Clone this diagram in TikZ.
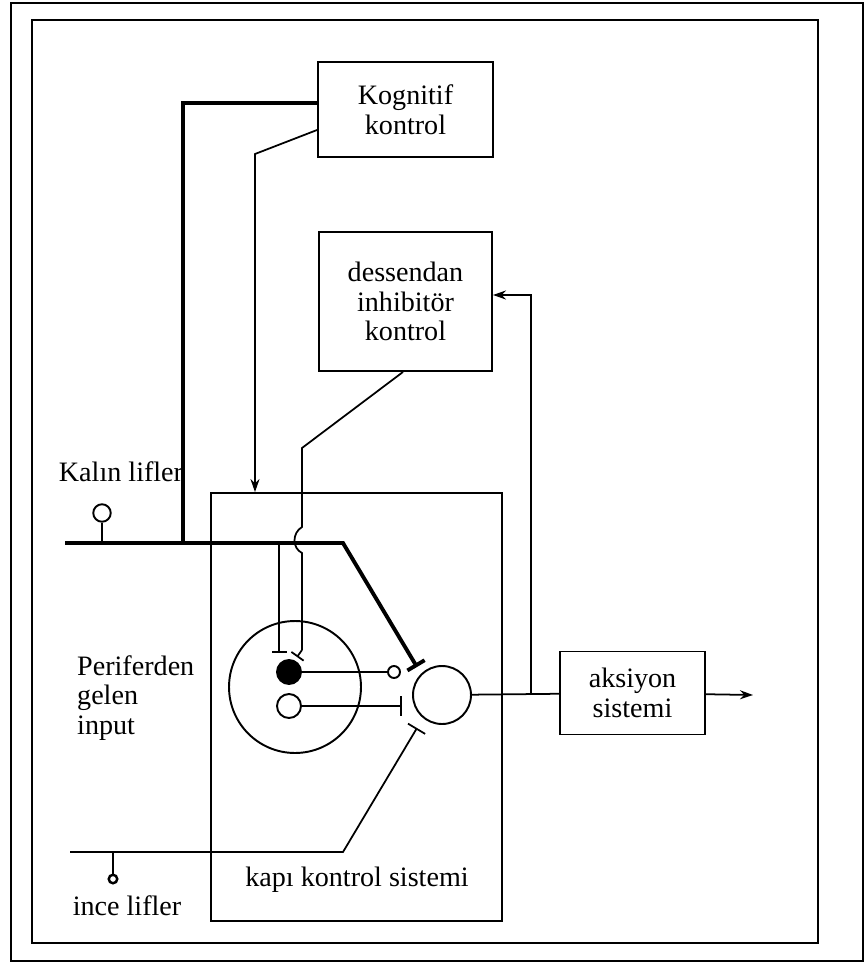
\documentclass[tikz,border=0pt]{standalone}
\usepackage{fontspec}
\setmainfont{Liberation Serif}
\usetikzlibrary{arrows.meta}

\begin{document}
\begin{tikzpicture}[x=0.02cm,y=-0.02cm,font=\fontsize{16}{17}\selectfont,
  box/.style={draw,line width=1.1pt,align=center,inner sep=0pt},
  ring/.style={draw,circle,line width=1.1pt,inner sep=0pt},
  wire/.style={line width=1pt},
  heavy/.style={line width=2.2pt},
  >={Stealth[length=2.6mm,width=1.8mm]}]
\useasboundingbox (0,0) rectangle (865,963);
\draw[line width=1.4pt] (11,3) rectangle (863,961);
\draw[line width=0.8pt] (32,20) rectangle (818,943);

\node[box,minimum width=3.5cm,minimum height=1.9cm] (kog) at (405.5,109.5) {Kognitif\\kontrol};
\node[box,minimum width=3.46cm,minimum height=2.78cm] (des) at (405.5,301.5) {dessendan\\inhibitör\\kontrol};
\node[box,minimum width=5.82cm,minimum height=8.56cm] (gate) at (356.5,707) {};
\node[anchor=base] (gatelbl) at (357,886) {kapı kontrol sistemi};
\node[box,minimum width=2.9cm,minimum height=1.66cm] (aks) at (632.5,693) {aksiyon\\sistemi};
\node[anchor=base] (kalin) at (121,481) {Kalın lifler};
\node[anchor=base] (ince) at (127,915) {ince lifler};
\node[align=left,anchor=west] (perif) at (71,698) {Periferden\\gelen\\input};

\node[ring,minimum size=0.35cm] (kc) at (102,513) {};
\node[ring,minimum size=0.17cm,line width=1.4pt] (ic) at (113,879) {};
\node[ring,minimum size=2.64cm] (dorsal) at (295,687) {};
\node[ring,fill=black,minimum size=0.48cm] (sgf) at (289,672) {};
\node[ring,minimum size=0.48cm] (sgo) at (289,706) {};
\node[ring,minimum size=0.24cm] (syn) at (394,672) {};
\node[ring,minimum size=1.16cm] (tcell) at (442,695) {};

\coordinate (kal0) at (65,543);
\coordinate (kalj) at (183,543);
\coordinate (kdrop) at (279,543);
\coordinate (kal1) at (343,543);
\coordinate (bartop) at (417,667);
\coordinate (inc0) at (70,852);
\coordinate (inc1) at (343,852);
\coordinate (barbot) at (417,728);
\coordinate (kogb) at (255,154);
\coordinate (desk) at (302,448);
\coordinate (hop0) at (302,527);
\coordinate (hop1) at (302,553);
\coordinate (desb) at (302,650);
\coordinate (dese) at (297,657);
\coordinate (openbar) at (402,706);
\coordinate (fb) at (531,695);
\coordinate (out) at (753,695);

\draw[heavy,-{Bar[width=4mm]}] (kal0) -- (kal1) -- (bartop);
\draw[line width=1.8pt] ([yshift=0.13cm]kog.west) -| (kalj);
\draw[wire,->] ([yshift=-0.41cm]kog.west) -- (kogb) -- (kogb |- gate.north);
\draw[wire] ([xshift=-0.05cm]des.south) -- (desk) -- (hop0) .. controls (292,533) and (292,548) .. (hop1) -- (desb);
\draw[wire,-{Bar[width=3mm]}] (desb) -- (dese);
\draw[wire,-{Bar[width=3mm]}] (kdrop) -- ++(0,110);
\draw[wire] (kc) -- (kc |- kal0);
\draw[wire] (sgf) -- (syn);
\draw[wire,-{Bar[width=4mm]}] (sgo) -- (openbar);
\draw[wire,-{Bar[width=4mm]}] (inc0) -- (inc1) -- (barbot);
\draw[wire] (ic) -- (ic |- inc0);
\draw[wire] (tcell) -- (aks);
\draw[wire,->] (aks) -- (out);
\draw[wire,->] (fb) |- ([yshift=0.13cm]des.east);
\end{tikzpicture}
\end{document}
